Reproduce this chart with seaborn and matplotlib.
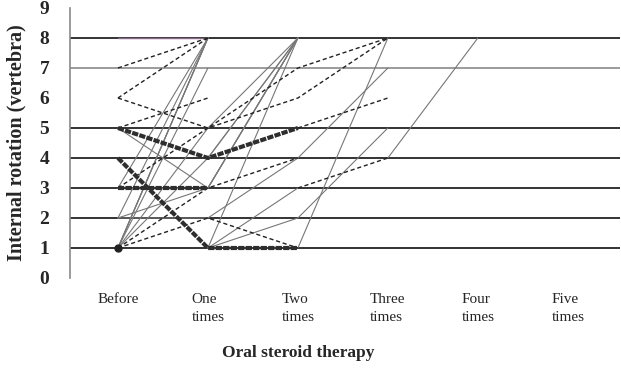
import matplotlib
matplotlib.use("Agg")
import matplotlib.pyplot as plt
import numpy as np
import pandas as pd
import seaborn as sns

# categorias del eje x
visitas = ["Before", "One\ntimes", "Two\ntimes", "Three\ntimes", "Four\ntimes", "Five\ntimes"]
n = np.nan

# series (una lista por paciente / tramo)
gruesas = [
    [5, 4, 5, n, n, n],
    [4, 1, 1, n, n, n],
    [3, 3, n, n, n, n],
]
discontinuas = [
    [7, 8, n, n, n, n],
    [6, 8, n, n, n, n],
    [6, 5, 7, 8, n, n],
    [5, 6, n, n, n, n],
    [1, 2, 1, n, n, n],
    [1, 3, 4, n, n, n],
    [3, 5, 6, 8, n, n],
    [n, n, 5, 6, n, n],
    [n, n, 3, 4, n, n],
]
finas = [
    [1, 8, n, n, n, n],
    [1, 8, n, n, n, n],
    [1, 8, n, n, n, n],
    [2, 8, n, n, n, n],
    [3, 8, n, n, n, n],
    [1, 7, n, n, n, n],
    [1, 4, 8, n, n, n],
    [1, 5, 8, n, n, n],
    [2, 3, 8, n, n, n],
    [5, 3, 8, n, n, n],
    [n, 1, 8, n, n, n],
    [n, 1, 3, n, n, n],
    [n, 4, 8, n, n, n],
    [n, 3, 8, n, n, n],
    [2, 2, 4, 7, n, n],
    [n, 1, 2, 5, n, n],
    [n, n, 1, 8, n, n],
    [n, n, n, 4, 8, n],
]
moradas = [
    [8, 8, n, n, n, n],
]
rejilla_negra = [1, 2, 3, 4, 5, 8]
rejilla_gris = [7]


def a_largo(series, tipo):
    filas = []
    for i, s in enumerate(series):
        for j, v in enumerate(s):
            if not np.isnan(v):
                filas.append({"serie": f"{tipo}{i}", "pos": j, "valor": v})
    return pd.DataFrame(filas)


sns.set_style("white")
plt.rcParams["font.family"] = ["Liberation Serif", "DejaVu Serif"]

fig = plt.figure(figsize=(6.21, 3.69), dpi=100)
ax = fig.add_axes([70 / 621, 1 - 278 / 369, 550 / 621, 270 / 369])

for y in rejilla_negra:
    ax.axhline(y, color="#111111", lw=1.2, zorder=1)
for y in rejilla_gris:
    ax.axhline(y, color="#8a8a8a", lw=1.2, zorder=1)

estilos = [
    (finas, "f", dict(color="#777777", lw=0.8, ls="-")),
    (moradas, "m", dict(color="#8a6a8a", lw=1.0, ls="-")),
    (discontinuas, "d", dict(color="#222222", lw=1.0, ls=(0, (3, 2)))),
    (gruesas, "g", dict(color="#2e2e2e", lw=3.0, ls=(0, (1.5, 0.3)))),
]
for series, tipo, kw in estilos:
    df = a_largo(series, tipo)
    sns.lineplot(data=df, x="pos", y="valor", units="serie", estimator=None,
                 ax=ax, legend=False, zorder=3, **kw)

# punto grueso en Before = 1
ax.plot([0], [1], marker="o", ms=5, color="#222222", zorder=4)

ax.set_xlim(-0.533, 5.58)
ax.set_ylim(0, 9)
ax.set_xticks(range(len(visitas)))
ax.set_xticklabels(visitas, fontsize=11, linespacing=1.5)
for t in ax.get_xticklabels():
    t.set_multialignment("left")
ax.set_yticks(range(10))
ax.set_yticklabels([str(i) for i in range(10)], fontsize=14, fontweight="bold")
ax.tick_params(axis="x", length=0, pad=11)
ax.tick_params(axis="y", direction="in", length=6, color="#8a8a8a", pad=15)

for lado in ["top", "right", "bottom"]:
    ax.spines[lado].set_visible(False)
ax.spines["left"].set_color("#8a8a8a")
ax.spines["left"].set_linewidth(1.2)

ax.set_xlabel("")
ax.set_ylabel("Internal rotation (vertebra)", fontsize=14.5, fontweight="bold", labelpad=9)
fig.text(298 / 621, 1 - 353 / 369, "Oral steroid therapy", fontsize=12.5,
         fontweight="bold", ha="center", va="center")

fig.savefig("out.png", dpi=100)
